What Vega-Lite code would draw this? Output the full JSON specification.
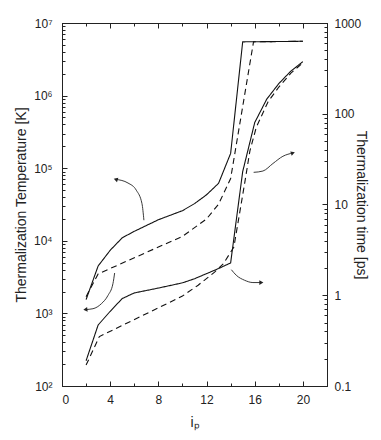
{
  "$schema": "https://vega.github.io/schema/vega-lite/v6.json",
  "width": 265,
  "height": 363,
  "autosize": "none",
  "padding": {"left": 62, "top": 23, "right": 54, "bottom": 54},
  "background": "white",
  "config": {
    "font": "Liberation Sans",
    "view": {"stroke": "#222", "strokeWidth": 1},
    "axis": {
      "domainColor": "#222", "tickColor": "#222", "labelColor": "#222", "titleColor": "#222",
      "labelFont": "Liberation Sans", "titleFont": "Liberation Sans", "titleFontWeight": "normal",
      "grid": false, "labelFontSize": 12, "titleFontSize": 14, "labelOverlap": false, "tickWidth": 1, "domainWidth": 1
    }
  },
  "datasets": {
    "temp": [
      {"ip": 2, "T": 1550, "run": "A"}, {"ip": 3, "T": 4500, "run": "A"}, {"ip": 4, "T": 7400, "run": "A"},
      {"ip": 5, "T": 11000, "run": "A"}, {"ip": 6, "T": 13500, "run": "A"}, {"ip": 8, "T": 19500, "run": "A"},
      {"ip": 10, "T": 26000, "run": "A"}, {"ip": 11, "T": 32500, "run": "A"}, {"ip": 12, "T": 43000, "run": "A"},
      {"ip": 13, "T": 62000, "run": "A"}, {"ip": 14, "T": 160000, "run": "A"}, {"ip": 15, "T": 5500000, "run": "A"},
      {"ip": 20, "T": 5600000, "run": "A"},
      {"ip": 2, "T": 1700, "run": "B"}, {"ip": 3, "T": 3500, "run": "B"}, {"ip": 8, "T": 8200, "run": "B"},
      {"ip": 10, "T": 11500, "run": "B"}, {"ip": 12, "T": 20000, "run": "B"}, {"ip": 13, "T": 32000, "run": "B"},
      {"ip": 14, "T": 72000, "run": "B"}, {"ip": 15.9, "T": 5500000, "run": "B"}, {"ip": 20, "T": 5600000, "run": "B"}
    ],
    "time": [
      {"ip": 2, "t": 0.19, "run": "A"}, {"ip": 3, "t": 0.47, "run": "A"}, {"ip": 4, "t": 0.665, "run": "A"},
      {"ip": 5, "t": 0.92, "run": "A"}, {"ip": 6, "t": 1.06, "run": "A"}, {"ip": 8, "t": 1.2, "run": "A"},
      {"ip": 10, "t": 1.37, "run": "A"}, {"ip": 11, "t": 1.52, "run": "A"}, {"ip": 13, "t": 1.97, "run": "A"},
      {"ip": 14, "t": 2.27, "run": "A"}, {"ip": 15, "t": 23, "run": "A"}, {"ip": 16, "t": 80, "run": "A"},
      {"ip": 17, "t": 145, "run": "A"}, {"ip": 18, "t": 215, "run": "A"}, {"ip": 19, "t": 295, "run": "A"},
      {"ip": 20, "t": 375, "run": "A"},
      {"ip": 2, "t": 0.17, "run": "B"}, {"ip": 3.1, "t": 0.35, "run": "B"}, {"ip": 10, "t": 0.98, "run": "B"},
      {"ip": 11.3, "t": 1.29, "run": "B"}, {"ip": 12.67, "t": 1.8, "run": "B"}, {"ip": 13.4, "t": 2.23, "run": "B"},
      {"ip": 14.27, "t": 3.4, "run": "B"}, {"ip": 15.16, "t": 17, "run": "B"}, {"ip": 15.6, "t": 39, "run": "B"},
      {"ip": 16.13, "t": 71, "run": "B"}, {"ip": 17.1, "t": 135, "run": "B"}, {"ip": 18, "t": 197, "run": "B"},
      {"ip": 19, "t": 280, "run": "B"}, {"ip": 20, "t": 365, "run": "B"}
    ],
    "arrows": [
      {"arrow": 1, "k": 1, "ip": 6.80, "T": 19200}, {"arrow": 1, "k": 2, "ip": 6.64, "T": 32500},
      {"arrow": 1, "k": 3, "ip": 6.17, "T": 49700}, {"arrow": 1, "k": 4, "ip": 5.48, "T": 62500},
      {"arrow": 1, "k": 5, "ip": 4.46, "T": 70300},
      {"arrow": 2, "k": 1, "ip": 4.37, "T": 3600}, {"arrow": 2, "k": 2, "ip": 4.23, "T": 2570},
      {"arrow": 2, "k": 3, "ip": 3.82, "T": 1770}, {"arrow": 2, "k": 4, "ip": 3.27, "T": 1360},
      {"arrow": 2, "k": 5, "ip": 2.57, "T": 1160}, {"arrow": 2, "k": 6, "ip": 1.94, "T": 1130},
      {"arrow": 3, "k": 1, "ip": 14.06, "T": 4000}, {"arrow": 3, "k": 2, "ip": 14.47, "T": 3350},
      {"arrow": 3, "k": 3, "ip": 15.16, "T": 2860}, {"arrow": 3, "k": 4, "ip": 15.85, "T": 2660},
      {"arrow": 3, "k": 5, "ip": 16.55, "T": 2660},
      {"arrow": 4, "k": 1, "ip": 15.91, "T": 87700}, {"arrow": 4, "k": 2, "ip": 16.68, "T": 91400},
      {"arrow": 4, "k": 3, "ip": 17.51, "T": 116000}, {"arrow": 4, "k": 4, "ip": 18.34, "T": 146000},
      {"arrow": 4, "k": 5, "ip": 19.17, "T": 162000}
    ],
    "heads": [
      {"arrow": 1, "ip": 4.46, "T": 70300},
      {"arrow": 2, "ip": 1.94, "T": 1130},
      {"arrow": 3, "ip": 16.55, "T": 2660},
      {"arrow": 4, "ip": 19.17, "T": 162000}
    ]
  },
  "layer": [
    {
      "encoding": {
        "x": {
          "field": "ip", "type": "quantitative",
          "scale": {"domain": [0, 22], "nice": false, "zero": false},
          "axis": {
            "orient": "bottom", "title": "iₚ", "titlePadding": 8,
            "values": [0, 2, 4, 6, 8, 10, 12, 14, 16, 18, 20, 22],
            "labelExpr": "datum.value % 4 == 0 && datum.value < 22 ? datum.label : ''",
            "tickSize": {"condition": {"test": "datum.value % 4 == 0", "value": -5}, "value": -3},
            "labelPadding": 13
          }
        },
        "y": {
          "field": "T", "type": "quantitative",
          "scale": {"type": "log", "domain": [100, 10000000], "nice": false},
          "axis": {
            "orient": "left", "title": "Thermalization Temperature [K]", "titlePadding": 5,
            "values": [100, 200, 300, 400, 500, 600, 700, 800, 900, 1000, 2000, 3000, 4000, 5000, 6000, 7000, 8000, 9000, 10000, 20000, 30000, 40000, 50000, 60000, 70000, 80000, 90000, 100000, 200000, 300000, 400000, 500000, 600000, 700000, 800000, 900000, 1000000, 2000000, 3000000, 4000000, 5000000, 6000000, 7000000, 8000000, 9000000, 10000000],
            "labelExpr": "abs(log(datum.value)/LN10 - round(log(datum.value)/LN10)) < 0.001 ? '10' + ['⁰','¹','²','³','⁴','⁵','⁶','⁷'][round(log(datum.value)/LN10)] : ''",
            "tickSize": {"condition": {"test": "abs(log(datum.value)/LN10 - round(log(datum.value)/LN10)) < 0.001", "value": -5}, "value": -3},
            "labelPadding": 15
          }
        }
      },
      "layer": [
        {
          "data": {"name": "temp"},
          "mark": {"type": "line", "color": "#111", "strokeWidth": 1.1},
          "encoding": {
            "strokeDash": {"field": "run", "type": "nominal", "scale": {"domain": ["A", "B"], "range": [[1, 0], [6, 4]]}, "legend": null}
          }
        },
        {
          "data": {"name": "arrows"},
          "mark": {"type": "line", "color": "#222", "strokeWidth": 0.9, "interpolate": "monotone"},
          "encoding": {
            "detail": {"field": "arrow", "type": "nominal"},
            "order": {"field": "k", "type": "quantitative"}
          }
        },
        {
          "data": {"name": "heads"},
          "transform": [{"filter": "datum.arrow == 1"}],
          "mark": {"type": "point", "shape": "triangle-left", "filled": true, "color": "#222", "size": 22, "angle": 17, "opacity": 1}
        },
        {
          "data": {"name": "heads"},
          "transform": [{"filter": "datum.arrow == 2"}],
          "mark": {"type": "point", "shape": "triangle-left", "filled": true, "color": "#222", "size": 22, "angle": -7, "opacity": 1}
        },
        {
          "data": {"name": "heads"},
          "transform": [{"filter": "datum.arrow == 3"}],
          "mark": {"type": "point", "shape": "triangle-right", "filled": true, "color": "#222", "size": 22, "angle": 0, "opacity": 1}
        },
        {
          "data": {"name": "heads"},
          "transform": [{"filter": "datum.arrow == 4"}],
          "mark": {"type": "point", "shape": "triangle-right", "filled": true, "color": "#222", "size": 22, "angle": -18, "opacity": 1}
        }
      ]
    },
    {
      "data": {"name": "time"},
      "mark": {"type": "line", "color": "#111", "strokeWidth": 1.1},
      "encoding": {
        "x": {
          "field": "ip", "type": "quantitative",
          "axis": {
            "orient": "top", "title": null, "labels": false,
            "values": [0, 2, 4, 6, 8, 10, 12, 14, 16, 18, 20, 22],
            "tickSize": {"condition": {"test": "datum.value % 4 == 0", "value": -5}, "value": -3}
          }
        },
        "y": {
          "field": "t", "type": "quantitative",
          "scale": {"type": "log", "domain": [0.1, 1000], "nice": false},
          "axis": {
            "orient": "right", "title": "Thermalization time [ps]", "titlePadding": -7,
            "values": [0.1, 0.2, 0.3, 0.4, 0.5, 0.6, 0.7, 0.8, 0.9, 1, 2, 3, 4, 5, 6, 7, 8, 9, 10, 20, 30, 40, 50, 60, 70, 80, 90, 100, 200, 300, 400, 500, 600, 700, 800, 900, 1000],
            "labelExpr": "abs(log(datum.value)/LN10 - round(log(datum.value)/LN10)) < 0.001 ? (datum.value < 1 ? '0.1' : format(datum.value, 'd')) : ''",
            "tickSize": {"condition": {"test": "abs(log(datum.value)/LN10 - round(log(datum.value)/LN10)) < 0.001", "value": -5}, "value": -3},
            "labelPadding": 12
          }
        },
        "strokeDash": {"field": "run", "type": "nominal", "scale": {"domain": ["A", "B"], "range": [[1, 0], [6, 4]]}, "legend": null}
      }
    }
  ],
  "resolve": {"scale": {"y": "independent"}, "axis": {"y": "independent", "x": "independent"}}
}
